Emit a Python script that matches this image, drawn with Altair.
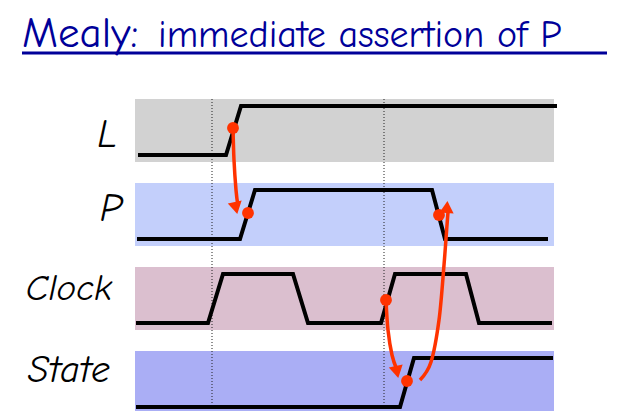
import altair as alt
import pandas as pd

# ---- data -------------------------------------------------------------
signal_names = ["L", "P", "Clock", "State"]
label_sizes = [40, 40, 37, 38]

# transition time points (x) and logic levels for each waveform
L_t = [138, 226, 241, 557]
L_v = [0, 0, 1, 1]
P_t = [137, 240, 255, 432, 445, 548]
P_v = [0, 0, 1, 1, 0, 0]
Clock_t = [136, 208, 223, 293, 308, 381, 395, 466, 479, 552]
Clock_v = [0, 0, 1, 1, 0, 0, 1, 1, 0, 0]
State_t = [136, 400, 414, 553]
State_v = [0, 0, 1, 1]

# dotted reference times
marker_times = [212, 384]

# causal arrows
arrow1_t = [233, 234, 236, 238]
arrow1_y = [128, 160, 190, 206]
arrow2_t = [386, 388, 392, 397]
arrow2_y = [300, 330, 355, 370]
arrow3_t = [420, 431, 439, 444, 447, 448]
arrow3_y = [380, 362, 320, 265, 225, 212]

dot_t = [233, 248, 386, 407, 439]
dot_y = [128, 213, 300, 381, 215]

head_t = [236, 397, 447]
head_y = [208, 372, 207]
head_shape = ["triangle-down", "triangle-down", "triangle-up"]
head_angle = [348, 348, 4]

title_main = "Mealy:"
title_sub = "immediate assertion of P"

# ---- layout helpers ----------------------------------------------------
band_top0 = 99
band_step = 84
band_h = 63
band_x0, band_x1 = 135, 554
hi_off, lo_off = 7, 56
band_colors = ["#d2d2d2", "#c3cffb", "#dbbfcf", "#aaaef5"]
label_x = [117, 122, 112, 110]
label_off = [48, 38, 33, 31]

W, H = 604, 403
xs = alt.Scale(domain=[8, 8 + W], nice=False, zero=False)
ys = alt.Scale(domain=[8, 8 + H], nice=False, zero=False, reverse=True)

bands = pd.DataFrame({
    "name": signal_names,
    "x0": [band_x0] * 4,
    "x1": [band_x1] * 4,
    "y0": [band_top0 + i * band_step for i in range(4)],
    "y1": [band_top0 + i * band_step + band_h for i in range(4)],
    "color": band_colors,
})

waves = []
for i, (t, v) in enumerate([(L_t, L_v), (P_t, P_v), (Clock_t, Clock_v), (State_t, State_v)]):
    top = band_top0 + i * band_step
    for k, (tt, vv) in enumerate(zip(t, v)):
        waves.append({"sig": signal_names[i], "k": k, "x": tt,
                      "y": top + (hi_off if vv else lo_off)})
waves = pd.DataFrame(waves)

labels = pd.DataFrame({
    "name": signal_names,
    "x": label_x,
    "y": [band_top0 + i * band_step + label_off[i] for i in range(4)],
    "size": label_sizes,
})

markers = pd.DataFrame({"x": marker_times, "y0": [99] * 2, "y1": [411] * 2})

arrows = pd.concat([
    pd.DataFrame({"a": "a1", "k": range(len(arrow1_t)), "x": arrow1_t, "y": arrow1_y}),
    pd.DataFrame({"a": "a2", "k": range(len(arrow2_t)), "x": arrow2_t, "y": arrow2_y}),
    pd.DataFrame({"a": "a3", "k": range(len(arrow3_t)), "x": arrow3_t, "y": arrow3_y}),
])
dots = pd.DataFrame({"x": dot_t, "y": dot_y})
heads = pd.DataFrame({"x": head_t, "y": head_y, "shape": head_shape, "angle": head_angle})

RED = "#ff3300"
BLUE = "#000099"
FONT = "Comic Sans MS, Comic Neue, DejaVu Sans"

band_layer = alt.Chart(bands).mark_rect().encode(
    x=alt.X("x0:Q", scale=xs, axis=None), x2="x1:Q",
    y=alt.Y("y0:Q", scale=ys, axis=None), y2="y1:Q",
    color=alt.Color("color:N", scale=None),
)

marker_layer = alt.Chart(markers).mark_rule(
    color="#222222", strokeWidth=1, strokeDash=[1, 2]
).encode(x=alt.X("x:Q", scale=xs), y=alt.Y("y0:Q", scale=ys), y2="y1:Q")

wave_layer = alt.Chart(waves).mark_line(
    color="black", strokeWidth=4, strokeJoin="miter", strokeCap="butt"
).encode(
    x=alt.X("x:Q", scale=xs), y=alt.Y("y:Q", scale=ys),
    detail="sig:N", order="k:Q",
)

arrow_layer = alt.Chart(arrows).mark_line(
    color=RED, strokeWidth=3.5, interpolate="cardinal"
).encode(
    x=alt.X("x:Q", scale=xs), y=alt.Y("y:Q", scale=ys),
    detail="a:N", order="k:Q",
)

dot_layer = alt.Chart(dots).mark_circle(color=RED, size=140, opacity=1).encode(
    x=alt.X("x:Q", scale=xs), y=alt.Y("y:Q", scale=ys)
)

head_layer = alt.Chart(heads).mark_point(
    color=RED, filled=True, opacity=1, size=200
).encode(
    x=alt.X("x:Q", scale=xs), y=alt.Y("y:Q", scale=ys),
    shape=alt.Shape("shape:N", scale=None),
    angle=alt.Angle("angle:Q", scale=None),
)

label_layer = alt.Chart(labels).mark_text(
    align="right", baseline="alphabetic", font=FONT, fontStyle="italic", color="black"
).encode(
    x=alt.X("x:Q", scale=xs), y=alt.Y("y:Q", scale=ys),
    text="name:N", size=alt.Size("size:Q", scale=None),
)

title_df = pd.DataFrame({"x": [22, 158], "y": [47, 47], "t": [title_main, title_sub], "s": [43, 38]})
title_layer = alt.Chart(title_df).mark_text(
    align="left", baseline="alphabetic", font=FONT, color=BLUE
).encode(
    x=alt.X("x:Q", scale=xs), y=alt.Y("y:Q", scale=ys),
    text="t:N", size=alt.Size("s:Q", scale=None),
)

underline = alt.Chart(pd.DataFrame({"x0": [22], "x1": [607], "y": [53]})).mark_rule(
    color=BLUE, strokeWidth=3
).encode(x=alt.X("x0:Q", scale=xs), x2="x1:Q", y=alt.Y("y:Q", scale=ys))

chart = alt.layer(
    band_layer, marker_layer, wave_layer, arrow_layer, dot_layer, head_layer,
    label_layer, title_layer, underline,
).properties(
    width=W, height=H, padding=0, autosize=alt.AutoSizeParams(type="none")
).configure_view(stroke=None)

chart.save("out.html", embed_options={"renderer": "svg", "actions": False})
